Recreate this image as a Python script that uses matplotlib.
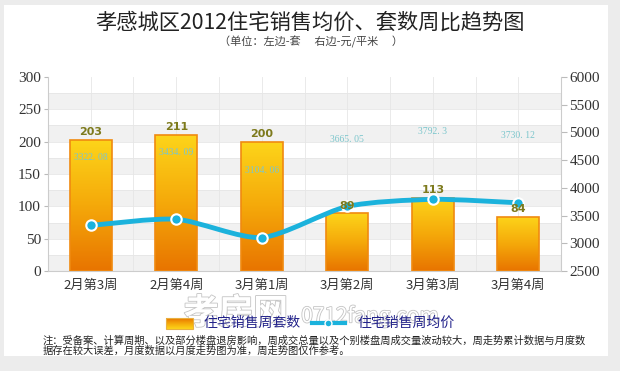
import numpy as np
import matplotlib
matplotlib.use("Agg")
import matplotlib.pyplot as plt
from matplotlib.path import Path
from matplotlib.patches import PathPatch, Rectangle
from matplotlib.colors import LinearSegmentedColormap
import matplotlib.patheffects as pe

plt.rcParams['font.family'] = ['Noto Sans CJK SC', 'DejaVu Sans']

weeks = ["2月第3周", "2月第4周", "3月第1周", "3月第2周", "3月第3周", "3月第4周"]
units = [203, 211, 200, 89, 113, 84]
prices = [3322.08, 3434.09, 3104.06, 3665.05, 3792.3, 3730.12]
price_label_y = [176, 184, 156, 204, 215, 210]
left_ticks = [0, 50, 100, 150, 200, 250, 300]
right_ticks = [2500, 3000, 3500, 4000, 4500, 5000, 5500, 6000]

fig = plt.figure(figsize=(6.2, 3.71), dpi=100)
fig.patch.set_facecolor("#ececec")

# white panel + light header gradient
bg = fig.add_axes([0, 0, 1, 1], zorder=-10)
bg.axis("off")
bg.add_patch(Rectangle((4, 5), 604, 351, facecolor="white", edgecolor="none"))
head = np.linspace(0.92, 1.0, 50).reshape(-1, 1)
bg.imshow(head, cmap="gray", vmin=0, vmax=1, extent=(4, 608, 50, 5), aspect="auto")

ax = fig.add_axes([0.0774, 0.2695, 0.8275, 0.523])
x = np.arange(len(weeks))

# alternating bands and light grid
for lo in range(0, 300, 50):
    ax.axhspan(lo, lo + 25, color="#f1f1f1", zorder=0, lw=0)
for v in np.arange(25, 300, 25):
    ax.axhline(v, color="#e6e6e6", lw=0.6, zorder=0.5)
for v in np.arange(-0.5, len(weeks), 0.5):
    ax.axvline(v, color="#e6e6e6", lw=0.6, zorder=0.5)

# gradient bars
cmap = LinearSegmentedColormap.from_list("bar", ["#e87400", "#f5a90a", "#fdd51a"])
grad = np.linspace(0, 1, 256).reshape(-1, 1)
w = 0.49
for xi, u in zip(x, units):
    im = ax.imshow(grad, cmap=cmap, extent=(xi - w / 2, xi + w / 2, 0, u),
                   origin="lower", aspect="auto", zorder=2)
    r = Rectangle((xi - w / 2, 0), w, u, facecolor="none", edgecolor="#f08a10", lw=1.2, zorder=3)
    ax.add_patch(r)
    im.set_clip_path(r)
ax.set_aspect("auto")
ax.set_xlim(-0.5, len(weeks) - 0.5)
ax.set_ylim(0, 300)

ax.set_yticks(left_ticks)
ax.set_xticks(x)
ax.set_xticklabels(weeks, fontsize=9.5, color="#333333")
for lab in ax.get_yticklabels():
    lab.set_family("Liberation Serif")
    lab.set_fontsize(11)
    lab.set_color("#333333")
ax.tick_params(axis="y", length=3, color="#bbbbbb", pad=2)
ax.tick_params(axis="x", length=0, pad=6)
for s in ["top", "right"]:
    ax.spines[s].set_visible(False)
for s in ["left", "bottom"]:
    ax.spines[s].set_color("#cccccc")

# price line on right axis
ax2 = ax.twinx()
ax2.set_ylim(2500, 6000)
ax2.set_yticks(right_ticks)
for lab in ax2.get_yticklabels():
    lab.set_family("Liberation Serif")
    lab.set_fontsize(11)
    lab.set_color("#333333")
ax2.tick_params(axis="y", length=4, color="#bbbbbb", pad=2)
for s in ["top", "left", "bottom"]:
    ax2.spines[s].set_visible(False)
ax2.spines["right"].set_color("#cccccc")

# smooth curve through the points (Catmull-Rom as cubic Bezier segments)
pts = np.column_stack([x, prices]).astype(float)
verts = [tuple(pts[0])]
codes = [Path.MOVETO]
k = 8.0
for i in range(len(pts) - 1):
    p0 = pts[max(i - 1, 0)]
    p1, p2 = pts[i], pts[i + 1]
    p3 = pts[min(i + 2, len(pts) - 1)]
    c1 = p1 + (p2 - p0) / k
    c2 = p2 - (p3 - p1) / k
    verts += [tuple(c1), tuple(c2), tuple(p2)]
    codes += [Path.CURVE4] * 3
ax2.add_patch(PathPatch(Path(verts, codes), facecolor="none", edgecolor="#1bb2dc",
                        lw=3.5, capstyle="round", zorder=4))
ax2.plot(x, prices, "o", ms=7.5, mfc="#1bb2dc", mec="white", mew=1.5, zorder=5)

# value labels (drawn on ax2 so they stay above the line)
for xi, u in zip(x, units):
    ax2.text(xi, u + 4, str(u), transform=ax.transData, ha="center", va="bottom",
             fontsize=8, fontweight="bold", color="#7d7a1c", family="DejaVu Sans", zorder=6)
for xi, p, ly in zip(x, prices, price_label_y):
    ax2.text(xi, ly, f"{p}".replace(".", ". "), transform=ax.transData,
             ha="center", va="center", fontsize=7, color="#7cc6cc",
             family="Liberation Serif", zorder=6)

# titles
bg.text(310, 23, "孝感城区2012住宅销售均价、套数周比趋势图", ha="center", va="center",
        fontsize=15.3, color="#222222")
bg.text(311, 42, "（单位：左边-套　 右边-元/平米　 ）", ha="center", va="center",
        fontsize=8, color="#444444")

# watermark
wm = [pe.withStroke(linewidth=1.2, foreground="#c4c4c4")]
bg.text(236, 313, "孝房网", ha="center", va="center", fontsize=25,
        color="white", fontweight="bold", path_effects=wm, zorder=1)
bg.text(370, 316, "0712fang.com", ha="center", va="center", fontsize=15,
        color="white", path_effects=wm, zorder=1)

# legend
leg_grad = np.linspace(0, 1, 50).reshape(-1, 1)
bg.imshow(leg_grad, cmap=cmap, extent=(166, 193, 329, 318), aspect="auto", zorder=2)
bg.add_patch(Rectangle((166, 318), 27, 11, facecolor="none", edgecolor="#e8b040", lw=0.8, zorder=3))
bg.text(204, 323, "住宅销售周套数", ha="left", va="center", fontsize=10, color="#22228a",
        fontweight="medium", zorder=4)
bg.plot([312, 345], [323, 323], color="#1bb2dc", lw=3, zorder=3)
bg.plot([328], [323], "o", ms=5, mfc="#1bb2dc", mec="white", mew=1, zorder=4)
bg.text(357, 323, "住宅销售周均价", ha="left", va="center", fontsize=10, color="#22228a",
        fontweight="medium", zorder=4)

# note
note1 = "注：受备案、计算周期、以及部分楼盘退房影响，周成交总量以及个别楼盘周成交量波动较大，周走势累计数据与月度数"
note2 = "据存在较大误差，月度数据以月度走势图为准，周走势图仅作参考。"
bg.text(43, 340.5, note1, ha="left", va="center", fontsize=7.4, color="#222222", zorder=5)
bg.text(43, 350.5, note2, ha="left", va="center", fontsize=7.4, color="#222222", zorder=5)

bg.set_xlim(0, 620)
bg.set_ylim(371, 0)

fig.savefig("out.png", dpi=100)
